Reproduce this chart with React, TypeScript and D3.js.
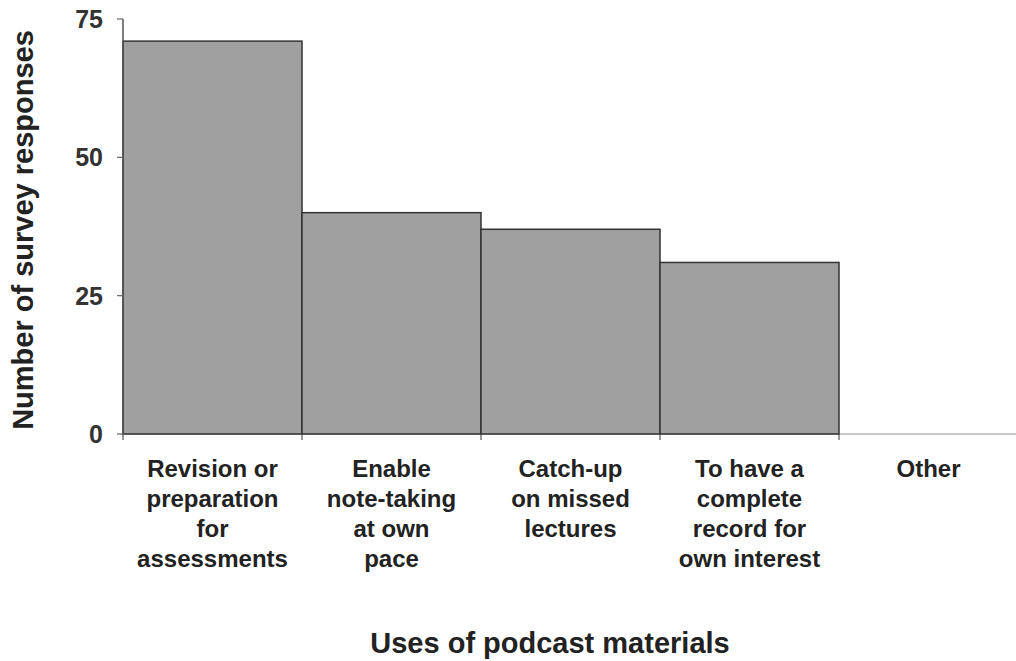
import { useRef, useEffect } from "react";
import * as d3 from "d3";

const categories = [
  ["Revision or", "preparation", "for", "assessments"],
  ["Enable", "note-taking", "at own", "pace"],
  ["Catch-up", "on missed", "lectures"],
  ["To have a", "complete", "record for", "own interest"],
  ["Other"],
];
const responses = [71, 40, 37, 31, 0];
const yTicks = [0, 25, 50, 75];

const WIDTH = 1016;
const HEIGHT = 661;
const FONT = "'Liberation Sans', Arial, sans-serif";

export default function App() {
  const svgRef = useRef<SVGSVGElement>(null);

  useEffect(() => {
    if (!svgRef.current) return;
    const svg = d3.select(svgRef.current);
    svg.selectAll("*").remove();

    const keys = categories.map((_, i) => String(i));
    const x = d3.scaleBand().domain(keys).range([123, 1018]).padding(0);
    const y = d3.scaleLinear().domain([0, 75]).range([434, 19]);

    // baseline (light grey, full width)
    svg.append("line")
      .attr("x1", 123).attr("x2", WIDTH)
      .attr("y1", y(0)).attr("y2", y(0))
      .attr("stroke", "#c8c8c8").attr("stroke-width", 2);

    // bars
    svg.selectAll("rect.bar")
      .data(responses.map((v, i) => ({ v, k: keys[i] })).filter((d) => d.v > 0))
      .join("rect")
      .attr("class", "bar")
      .attr("x", (d) => x(d.k)!)
      .attr("y", (d) => y(d.v))
      .attr("width", x.bandwidth())
      .attr("height", (d) => y(0) - y(d.v))
      .attr("fill", "#a0a0a0")
      .attr("stroke", "#333")
      .attr("stroke-width", 1.5);

    // category boundary ticks
    svg.selectAll("line.xtick")
      .data(keys.map((k) => x(k)!))
      .join("line")
      .attr("class", "xtick")
      .attr("x1", (d) => d).attr("x2", (d) => d)
      .attr("y1", y(0)).attr("y2", y(0) + 6)
      .attr("stroke", "#555").attr("stroke-width", 1.2);

    // y axis
    svg.append("line")
      .attr("x1", 123).attr("x2", 123)
      .attr("y1", y(75)).attr("y2", y(0))
      .attr("stroke", "#555").attr("stroke-width", 1.5);

    svg.selectAll("line.ytick")
      .data(yTicks)
      .join("line")
      .attr("class", "ytick")
      .attr("x1", 117).attr("x2", 123)
      .attr("y1", (d) => y(d)).attr("y2", (d) => y(d))
      .attr("stroke", "#666").attr("stroke-width", 1.2);

    svg.selectAll("text.ylab")
      .data(yTicks)
      .join("text")
      .attr("class", "ylab")
      .attr("x", 103).attr("y", (d) => y(d) + 9)
      .attr("text-anchor", "end")
      .attr("font-family", FONT).attr("font-size", 25).attr("font-weight", "bold")
      .attr("fill", "#333")
      .text((d) => String(d));

    // category labels
    categories.forEach((lines, i) => {
      const cx = x(keys[i])! + x.bandwidth() / 2;
      const t = svg.append("text")
        .attr("text-anchor", "middle")
        .attr("font-family", FONT).attr("font-size", 24).attr("font-weight", "bold")
        .attr("fill", "#222");
      lines.forEach((ln, j) => {
        t.append("tspan").attr("x", cx).attr("y", 477 + j * 30).text(ln);
      });
    });

    // axis titles
    svg.append("text")
      .attr("x", 550).attr("y", 653)
      .attr("text-anchor", "middle")
      .attr("font-family", FONT).attr("font-size", 29).attr("font-weight", "bold")
      .attr("fill", "#222")
      .text("Uses of podcast materials");

    svg.append("text")
      .attr("transform", "rotate(-90)")
      .attr("x", -230).attr("y", 33)
      .attr("text-anchor", "middle")
      .attr("font-family", FONT).attr("font-size", 29).attr("font-weight", "bold")
      .attr("fill", "#222")
      .text("Number of survey responses");
  }, []);

  return (
    <svg
      ref={svgRef}
      width={WIDTH}
      height={HEIGHT}
      style={{ position: "absolute", left: 0, top: 0, background: "#fff" }}
    />
  );
}
